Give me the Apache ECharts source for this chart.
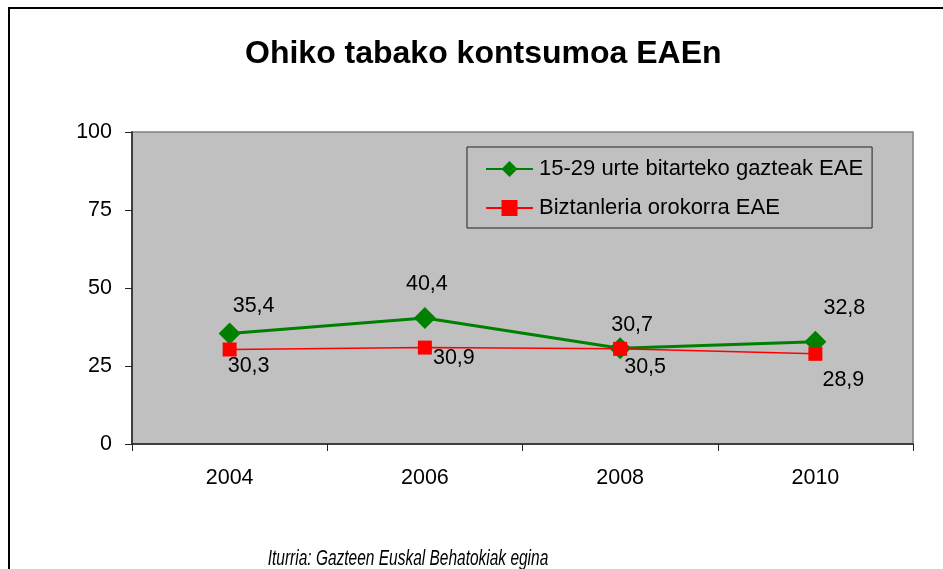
<!DOCTYPE html>
<html>
<head>
<meta charset="utf-8">
<script src="https://cdn.jsdelivr.net/npm/echarts@6/dist/echarts.min.js"></script>
<style>
html,body{margin:0;padding:0;background:#fff;}
#chart{width:943px;height:569px;}
</style>
</head>
<body>
<div id="chart"></div>
<script>
const titleText = 'Ohiko tabako kontsumoa EAEn';
const sourceText = 'Iturria: Gazteen Euskal Behatokiak egina';
const categories = ['2004', '2006', '2008', '2010'];
const yTicks = [0, 25, 50, 75, 100];
const youthName = '15-29 urte bitarteko gazteak EAE';
const youthValues = [35.4, 40.4, 30.7, 32.8];
const generalName = 'Biztanleria orokorra EAE';
const generalValues = [30.3, 30.9, 30.5, 28.9];

// label placement offsets (pixels), kept separate from data
const youthLabelOffsets = [[24, -27], [2, -34], [12, -23], [29, -34]];
const generalLabelOffsets = [[19, 17], [29, 10], [25, 18], [28, 26]];

const FONT = 'Liberation Sans, Arial, sans-serif';
const fmt = v => String(v).replace('.', ',');

function buildData(values, offsets) {
  return values.map((v, i) => ({
    value: v,
    label: { offset: offsets[i] }
  }));
}

const chart = echarts.init(document.getElementById('chart'), null, { renderer: 'canvas' });
chart.setOption({
  backgroundColor: '#ffffff',
  animation: false,
  title: {
    text: titleText,
    left: 240,
    top: 33,
    textStyle: { fontFamily: FONT, fontSize: 32, fontWeight: 'bold', color: '#000' }
  },
  graphic: [
    {
      type: 'rect',
      shape: { x: 9, y: 8, width: 1000, height: 1000 },
      style: { fill: 'none', stroke: '#000', lineWidth: 2 },
      silent: true,
      z: -1
    },
    {
      type: 'text',
      x: 408,
      y: 559,
      scaleX: 0.72,
      style: {
        text: sourceText,
        fontFamily: FONT,
        fontSize: 21.5,
        fontStyle: 'italic',
        fill: '#000',
        align: 'center',
        verticalAlign: 'middle'
      }
    }
  ],
  legend: {
    orient: 'vertical',
    left: 467,
    top: 147,
    padding: [11, 9, 9, 18],
    itemGap: 17,
    itemWidth: 47,
    itemHeight: 20,
    borderColor: '#222',
    borderWidth: 1,
    backgroundColor: 'transparent',
    textStyle: { fontFamily: FONT, fontSize: 22, color: '#000', padding: [0, 0, 0, 1] },
    data: [youthName, generalName]
  },
  grid: {
    left: 132, top: 132, right: 30, bottom: 125,
    show: true,
    backgroundColor: '#C0C0C0',
    borderColor: '#808080',
    borderWidth: 1.5
  },
  xAxis: {
    type: 'category',
    data: categories,
    boundaryGap: true,
    axisLine: { lineStyle: { color: '#222', width: 1.5 } },
    axisTick: { show: true, interval: 0, length: 7, lineStyle: { color: '#222' } },
    axisLabel: { fontFamily: FONT, fontSize: 21.5, color: '#000', margin: 23 },
    splitLine: { show: false }
  },
  yAxis: {
    type: 'value',
    min: yTicks[0],
    max: yTicks[yTicks.length - 1],
    interval: yTicks[1] - yTicks[0],
    axisLine: { show: true, lineStyle: { color: '#222', width: 1.5 } },
    axisTick: { show: true, length: 7, lineStyle: { color: '#222' } },
    axisLabel: { fontFamily: FONT, fontSize: 21.5, color: '#000', margin: 20 },
    splitLine: { show: false }
  },
  series: [
    {
      name: youthName,
      type: 'line',
      data: buildData(youthValues, youthLabelOffsets),
      symbol: 'diamond',
      symbolSize: 22,
      lineStyle: { color: '#008000', width: 3 },
      itemStyle: { color: '#008000' },
      label: {
        show: true,
        position: 'inside',
        formatter: p => fmt(p.value),
        fontFamily: FONT, fontSize: 21.5, color: '#000'
      },
      z: 2
    },
    {
      name: generalName,
      type: 'line',
      data: buildData(generalValues, generalLabelOffsets),
      symbol: 'rect',
      symbolSize: 14,
      lineStyle: { color: '#FF0000', width: 1.5 },
      itemStyle: { color: '#FF0000' },
      label: {
        show: true,
        position: 'inside',
        formatter: p => fmt(p.value),
        fontFamily: FONT, fontSize: 21.5, color: '#000'
      },
      z: 3
    }
  ]
});
</script>
</body>
</html>
